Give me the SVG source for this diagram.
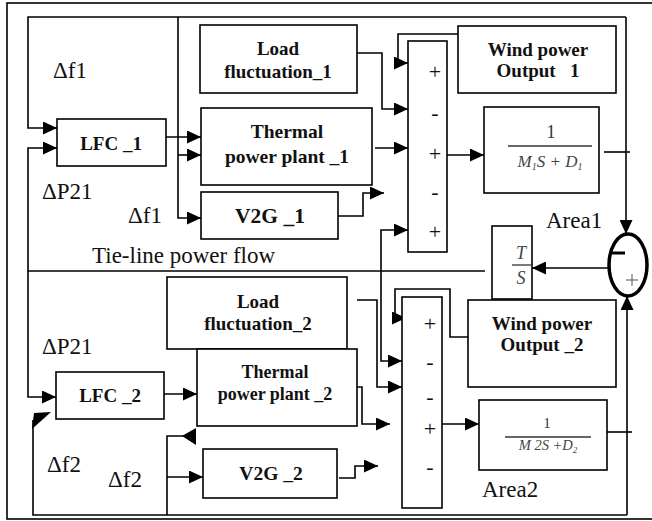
<svg xmlns="http://www.w3.org/2000/svg" width="652" height="521" viewBox="0 0 652 521">
<defs>
<style>
.box{fill:#fff;stroke:#000;stroke-width:1.6}
.ln{fill:none;stroke:#000;stroke-width:1.6}
.arr{marker-end:url(#ah)}
.both{marker-start:url(#ah);marker-end:url(#ah)}
.t{font-family:"Liberation Serif","Times New Roman",serif;font-weight:bold;text-anchor:middle;fill:#111}
.lbl{font-family:"Liberation Serif","Times New Roman",serif;font-size:23px;fill:#111}
.sg{font-family:"Liberation Serif","Times New Roman",serif;font-size:22px;text-anchor:middle;fill:#111}
.fr{font-family:"Liberation Serif","Times New Roman",serif;font-style:italic;fill:#444;text-anchor:middle}
</style>
<marker id="ah" markerUnits="userSpaceOnUse" markerWidth="14" markerHeight="13" viewBox="0 0 14 13" refX="14" refY="6.5" orient="auto-start-reverse"><path d="M0,0 L14,6.5 L0,13 z" fill="#000"/></marker>
</defs>
<rect width="652" height="521" fill="#fff"/>
<rect x="7" y="3" width="680" height="516" fill="none" stroke="#000" stroke-width="1.6"/>

<g id="connectors">
<path class="ln arr" d="M626,17 L626,234"/>
<path class="ln arr" d="M626,17 L28,17 L28,128 L57,128"/>
<path class="ln arr" d="M178,17 L178,218 L201,218"/>
<path class="ln arr" d="M178,155 L201,155"/>
<path class="ln arr" d="M166,137 L201,137"/>
<path class="ln arr" d="M485,271 L28,271 L28,148 L57,148"/>
<path class="ln arr" d="M357,53 L382,53 L382,109 L408,109"/>
<path class="ln arr" d="M375,148 L408,148"/>
<path class="ln arr" d="M338,216 L363,216 L363,193 L384,193"/>
<path class="ln arr" d="M458,34 L398,34 L398,63 L408,63"/>
<path class="ln both" d="M408,230 L381,230 L381,361 L402,361"/>
<path class="ln arr" d="M447,155 L484,155"/>
<path class="ln" d="M604,152 L630,152"/>
<path class="ln arr" d="M610,268 L532,268"/>
<path class="ln arr" d="M28,271 L28,397 L56,397"/>
<path class="ln arr" d="M164,394 L197,394"/>
<path class="ln arr" d="M627,515 L627,296"/>
<path class="ln" d="M627,515 L33,515 L33,420"/>
<polygon points="32,429 34,413 51,412" fill="#000"/>
<path class="ln" d="M167,515 L167,436 L184,436"/>
<polygon points="196,428 196,445 182,436" fill="#000"/>
<path class="ln arr" d="M167,477 L203,477"/>
<path class="ln arr" d="M357,300 L377,300 L377,387 L402,387"/>
<path class="ln arr" d="M357,387 L362,387 L362,424 L390,424"/>
<path class="ln arr" d="M339,478 L355,478 L355,466 L378,466"/>
<path class="ln arr" d="M472,342 L472,337 L450,337 L450,289 L395,289 L395,318 L406,318"/>
<path class="ln arr" d="M442,424 L479,424"/>
<path class="ln" d="M607,432 L632,432"/>
</g>

<g id="labels">
<text class="lbl" x="53" y="78">Δf1</text>
<text class="lbl" x="42" y="199">ΔP21</text>
<text class="lbl" x="128" y="223">Δf1</text>
<text class="lbl" x="92" y="263">Tie-line power flow</text>
<text class="lbl" x="546" y="228">Area1</text>
<text class="lbl" x="42" y="354">ΔP21</text>
<text class="lbl" x="47" y="472">Δf2</text>
<text class="lbl" x="108" y="487">Δf2</text>
<text class="lbl" x="482" y="497">Area2</text>
</g>

<g id="lfc1"><rect class="box" x="57" y="119" width="109" height="47"/><text class="t" x="111" y="150" font-size="19">LFC _1</text></g>
<g id="load1"><rect class="box" x="200" y="25" width="157" height="68"/><text class="t" x="278" y="55" font-size="19">Load</text><text class="t" x="278" y="78" font-size="19">fluctuation_1</text></g>
<g id="thermal1"><rect class="box" x="201" y="108" width="171" height="77"/><text class="t" x="287" y="138" font-size="19.5">Thermal</text><text class="t" x="287" y="163" font-size="19.5">power plant _1</text></g>
<g id="v2g1"><rect class="box" x="201" y="192" width="137" height="47"/><text class="t" x="270" y="223" font-size="21.5">V2G _1</text></g>
<g id="sum1"><rect class="box" x="408" y="41" width="39" height="211"/>
<text class="sg" x="435" y="79">+</text><text class="sg" x="435" y="120">-</text><text class="sg" x="435" y="161">+</text><text class="sg" x="435" y="199">-</text><text class="sg" x="435" y="239">+</text></g>
<g id="wind1"><rect class="box" x="458" y="26" width="158" height="67"/><text class="t" x="538" y="56" font-size="19">Wind power</text><text class="t" x="538" y="77" font-size="19" xml:space="preserve">Output   1</text></g>
<g id="g1"><rect class="box" x="484" y="107" width="115" height="86"/>
<text x="551" y="138" font-family="Liberation Serif,serif" font-size="18" text-anchor="middle" fill="#333">1</text>
<line x1="508" y1="146" x2="592" y2="146" stroke="#333" stroke-width="1.3"/>
<text class="fr" x="550" y="167" font-size="17">M<tspan font-size="10" dy="3">1</tspan><tspan dy="-3">S + D</tspan><tspan font-size="10" dy="3">1</tspan></text></g>
<g id="ts"><rect class="box" x="492" y="226" width="40" height="73"/>
<text class="fr" x="521" y="259" font-size="18" fill="#333">T</text>
<line x1="512" y1="265" x2="531" y2="265" stroke="#333" stroke-width="1.3"/>
<text class="fr" x="521" y="284" font-size="18" fill="#333">S</text></g>
<g id="junction"><ellipse cx="628" cy="265" rx="19" ry="31" fill="#fff" stroke="#000" stroke-width="3.5"/>
<line x1="610" y1="253" x2="625" y2="253" stroke="#000" stroke-width="3"/>
<line x1="626" y1="280" x2="638" y2="280" stroke="#555" stroke-width="1"/><line x1="632" y1="274" x2="632" y2="286" stroke="#555" stroke-width="1"/></g>

<g id="lfc2"><rect class="box" x="56" y="372" width="108" height="47"/><text class="t" x="110" y="402" font-size="19">LFC _2</text></g>
<g id="load2"><rect class="box" x="167" y="277" width="180" height="72"/><text class="t" x="258" y="308" font-size="19">Load</text><text class="t" x="258" y="330" font-size="19">fluctuation_2</text></g>
<g id="thermal2"><rect class="box" x="197" y="349" width="160" height="77"/><text class="t" x="275" y="378" font-size="18">Thermal</text><text class="t" x="275" y="400" font-size="18">power plant _2</text></g>
<g id="v2g2"><rect class="box" x="203" y="449" width="134" height="49"/><text class="t" x="271" y="480" font-size="19.5">V2G _2</text></g>
<g id="sum2"><rect class="box" x="402" y="297" width="40" height="211"/>
<text class="sg" x="430" y="331">+</text><text class="sg" x="430" y="369">-</text><text class="sg" x="430" y="404">-</text><text class="sg" x="430" y="436">+</text><text class="sg" x="430" y="474">-</text></g>
<g id="wind2"><rect class="box" x="468" y="300" width="148" height="87"/><text class="t" x="542" y="330" font-size="19">Wind power</text><text class="t" x="542" y="351" font-size="19">Output _2</text></g>
<g id="g2"><rect class="box" x="479" y="400" width="128" height="70"/>
<text x="547" y="428" font-family="Liberation Serif,serif" font-size="15" text-anchor="middle" fill="#333">1</text>
<line x1="505" y1="437" x2="591" y2="437" stroke="#333" stroke-width="1.3"/>
<text class="fr" x="548" y="450" font-size="14.5">M 2S +D<tspan font-size="9" dy="3">2</tspan></text></g>
</svg>
